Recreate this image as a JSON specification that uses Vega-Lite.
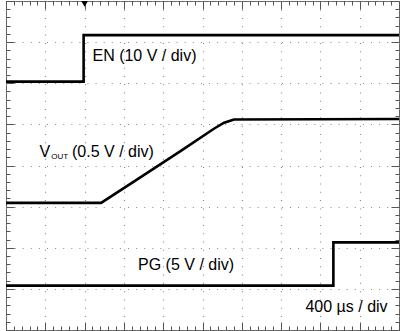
{
  "$schema": "https://vega.github.io/schema/vega-lite/v6.json",
  "width": 405,
  "height": 331,
  "padding": 0,
  "autosize": {"type": "fit", "contains": "padding"},
  "background": "white",
  "config": {
    "view": {"stroke": "#666", "strokeWidth": 1},
    "font": "Liberation Sans"
  },
  "datasets": {
    "traces": [
      {"trace": "EN", "i": 0, "x": 0, "y": 6.04},
      {"trace": "EN", "i": 1, "x": 1.975, "y": 6.04},
      {"trace": "EN", "i": 2, "x": 1.975, "y": 7.17},
      {"trace": "EN", "i": 3, "x": 10, "y": 7.17},
      {"trace": "VOUT", "i": 0, "x": 0, "y": 3.09},
      {"trace": "VOUT", "i": 1, "x": 2.42, "y": 3.09},
      {"trace": "VOUT", "i": 2, "x": 3.35, "y": 3.67},
      {"trace": "VOUT", "i": 3, "x": 4.44, "y": 4.35},
      {"trace": "VOUT", "i": 4, "x": 5.3, "y": 4.9},
      {"trace": "VOUT", "i": 5, "x": 5.55, "y": 5.04},
      {"trace": "VOUT", "i": 6, "x": 5.8, "y": 5.12},
      {"trace": "VOUT", "i": 7, "x": 10, "y": 5.13},
      {"trace": "PG", "i": 0, "x": 0, "y": 1.08},
      {"trace": "PG", "i": 1, "x": 8.33, "y": 1.08},
      {"trace": "PG", "i": 2, "x": 8.33, "y": 2.13},
      {"trace": "PG", "i": 3, "x": 10, "y": 2.13}
    ],
    "labels": [
      {"label": "EN (10 V / div)", "x": 2.2, "y": 6.53},
      {"label": "V", "x": 0.85, "y": 4.2},
      {"label": "(0.5 V / div)", "x": 1.68, "y": 4.2},
      {"label": "PG (5 V / div)", "x": 3.36, "y": 1.46},
      {"label": "400 µs / div", "x": 7.62, "y": 0.44}
    ],
    "sub": [
      {"label": "OUT", "x": 1.15, "y": 4.15}
    ],
    "trigger": [
      {"x": 2.0, "y": 7.93}
    ]
  },
  "layer": [
    {
      "data": {"name": "traces"},
      "mark": {"type": "line", "color": "black", "strokeWidth": 2.6, "interpolate": "linear"},
      "encoding": {
        "x": {
          "field": "x", "type": "quantitative",
          "scale": {"domain": [0, 10], "nice": false, "zero": false},
          "axis": {
            "orient": "bottom", "title": null, "labels": false, "domain": false,
            "values": [0,0.2,0.4,0.6,0.8,1,1.2,1.4,1.6,1.8,2,2.2,2.4,2.6,2.8,3,3.2,3.4,3.6,3.8,4,4.2,4.4,4.6,4.8,5,5.2,5.4,5.6,5.8,6,6.2,6.4,6.6,6.8,7,7.2,7.4,7.6,7.8,8,8.2,8.4,8.6,8.8,9,9.2,9.4,9.6,9.8,10],
            "grid": true, "gridColor": "#8a8a8a", "gridDash": [1, 7.275], "gridWidth": 1.2,
            "gridOpacity": {"condition": {"test": "abs(datum.value - round(datum.value)) < 0.01", "value": 1}, "value": 0},
            "tickColor": "#555", "tickWidth": 1,
            "tickSize": {"condition": {"test": "abs(datum.value - round(datum.value)) < 0.01", "value": -8}, "value": -4}
          }
        },
        "y": {
          "field": "y", "type": "quantitative",
          "scale": {"domain": [0, 8], "nice": false, "zero": false},
          "axis": {
            "orient": "left", "title": null, "labels": false, "domain": false,
            "values": [0,0.2,0.4,0.6,0.8,1,1.2,1.4,1.6,1.8,2,2.2,2.4,2.6,2.8,3,3.2,3.4,3.6,3.8,4,4.2,4.4,4.6,4.8,5,5.2,5.4,5.6,5.8,6,6.2,6.4,6.6,6.8,7,7.2,7.4,7.6,7.8,8],
            "grid": true, "gridColor": "#8a8a8a", "gridDash": [1, 7.1], "gridWidth": 1.2,
            "gridOpacity": {"condition": {"test": "abs(datum.value - round(datum.value)) < 0.01", "value": 1}, "value": 0},
            "tickColor": "#555", "tickWidth": 1,
            "tickSize": {"condition": {"test": "abs(datum.value - round(datum.value)) < 0.01", "value": -8}, "value": -4}
          }
        },
        "detail": {"field": "trace"},
        "order": {"field": "i"}
      }
    },
    {
      "data": {"name": "trigger"},
      "mark": {"type": "point", "shape": "triangle-down", "filled": true, "color": "black", "size": 45, "opacity": 1},
      "encoding": {
        "x": {
          "field": "x", "type": "quantitative",
          "axis": {
            "orient": "top", "title": null, "labels": false, "domain": false, "grid": false,
            "values": [0,0.2,0.4,0.6,0.8,1,1.2,1.4,1.6,1.8,2,2.2,2.4,2.6,2.8,3,3.2,3.4,3.6,3.8,4,4.2,4.4,4.6,4.8,5,5.2,5.4,5.6,5.8,6,6.2,6.4,6.6,6.8,7,7.2,7.4,7.6,7.8,8,8.2,8.4,8.6,8.8,9,9.2,9.4,9.6,9.8,10],
            "tickColor": "#555", "tickWidth": 1,
            "tickSize": {"condition": {"test": "abs(datum.value - round(datum.value)) < 0.01", "value": -8}, "value": -4}
          }
        },
        "y": {
          "field": "y", "type": "quantitative",
          "axis": {
            "orient": "right", "title": null, "labels": false, "domain": false, "grid": false,
            "values": [0,0.2,0.4,0.6,0.8,1,1.2,1.4,1.6,1.8,2,2.2,2.4,2.6,2.8,3,3.2,3.4,3.6,3.8,4,4.2,4.4,4.6,4.8,5,5.2,5.4,5.6,5.8,6,6.2,6.4,6.6,6.8,7,7.2,7.4,7.6,7.8,8],
            "tickColor": "#555", "tickWidth": 1,
            "tickSize": {"condition": {"test": "abs(datum.value - round(datum.value)) < 0.01", "value": -8}, "value": -4}
          }
        }
      }
    },
    {
      "data": {"name": "labels"},
      "mark": {"type": "text", "align": "left", "baseline": "alphabetic", "fontSize": 16, "font": "Liberation Sans", "color": "black"},
      "encoding": {
        "x": {"field": "x", "type": "quantitative", "axis": null},
        "y": {"field": "y", "type": "quantitative", "axis": null},
        "text": {"field": "label"}
      }
    },
    {
      "data": {"name": "sub"},
      "mark": {"type": "text", "align": "left", "baseline": "alphabetic", "fontSize": 8, "font": "Liberation Sans", "color": "black"},
      "encoding": {
        "x": {"field": "x", "type": "quantitative", "axis": null},
        "y": {"field": "y", "type": "quantitative", "axis": null},
        "text": {"field": "label"}
      }
    }
  ],
  "resolve": {"axis": {"x": "independent", "y": "independent"}}
}
